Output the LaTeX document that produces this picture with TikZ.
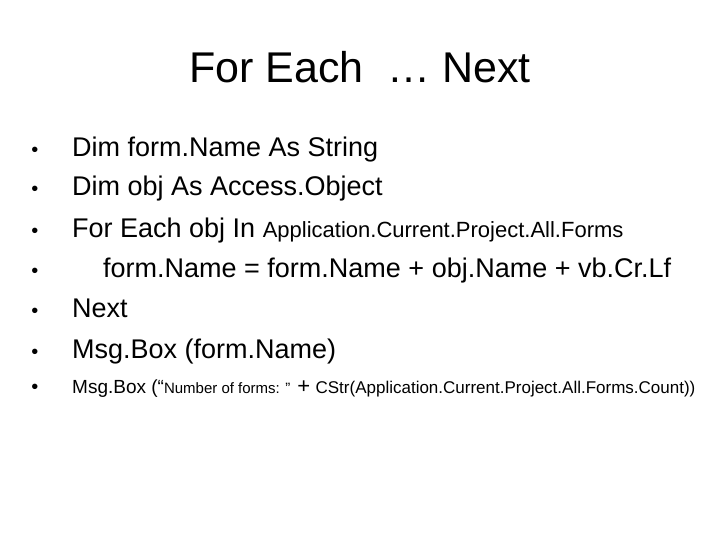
\documentclass[tikz,border=0pt]{standalone}
\usepackage{fontspec}
\setmainfont{Liberation Sans}
\begin{document}
\begin{tikzpicture}[x=1pt,y=-1pt,
  line/.style={anchor=base west,inner sep=0pt,font=\fontsize{27}{30}\selectfont},
  dot/.style={anchor=base,inner sep=0pt,font=\fontsize{20}{24}\selectfont}]
  \useasboundingbox (0,0) rectangle (720,540);
  % title
  \node[anchor=base,inner sep=0pt,font=\fontsize{43}{48}\selectfont] (title) at (360,83) {For Each \ \ldots\ Next};
  % bullets
  \foreach \y/\n in {157/a,196/b,237/c,277/d,317/e,358/f,393/g}
    \node[dot] (b\n) at (35,\y) {•};
  \node[line] (la) at (72,157) {Dim form.Name As String};
  \node[line] (lb) at (72,196) {Dim obj As Access.Object};
  \node[line] (lc) at (72,237) {For Each obj In {\fontsize{22}{26}\selectfont Application.Current.Project.All.Forms}};
  \node[line] (ld) at (103,277) {form.Name = form.Name + obj.Name + vb.Cr.Lf};
  \node[line] (le) at (72,317) {Next};
  \node[line] (lf) at (72,358) {Msg.Box (form.Name)};
  \node[line,font=\fontsize{19}{22}\selectfont] (lg) at (72,393)
    {Msg.Box (“{\fontsize{15}{18}\selectfont Number of forms: ”} {\fontsize{22}{24}\selectfont +} {\fontsize{17}{20}\selectfont CStr(Application.Current.Project.All.Forms.Count))}};
\end{tikzpicture}
\end{document}
